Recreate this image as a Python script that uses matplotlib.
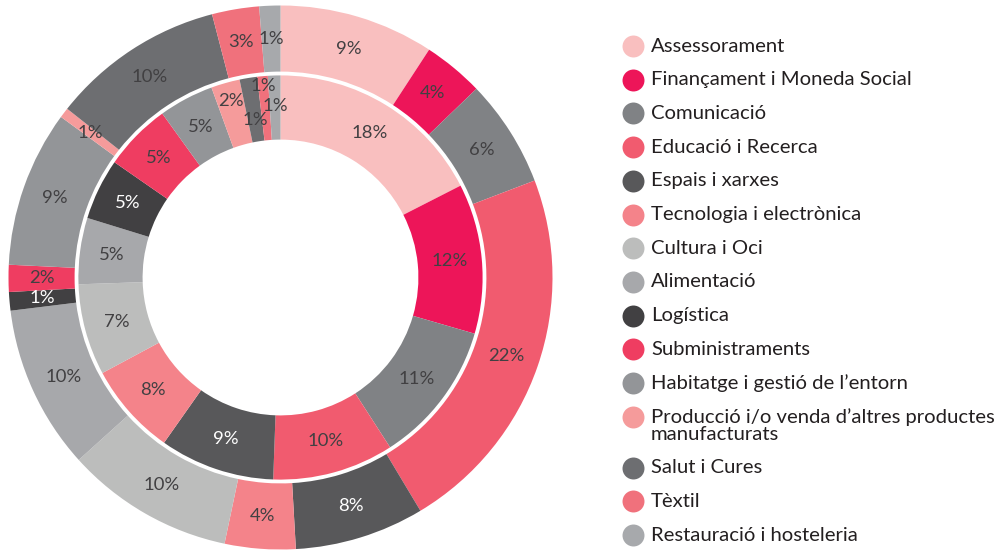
import matplotlib.pyplot as plt
import numpy as np

plt.rcParams['font.family'] = ['Lato', 'DejaVu Sans']

# categories (legend order = clockwise order in both rings)
categories = [
    'Assessorament',
    'Finançament i Moneda Social',
    'Comunicació',
    'Educació i Recerca',
    'Espais i xarxes',
    'Tecnologia i electrònica',
    'Cultura i Oci',
    'Alimentació',
    'Logística',
    'Subministraments',
    'Habitatge i gestió de l\u2019entorn',
    'Producció i/o venda d\u2019altres productes\nmanufacturats',
    'Salut i Cures',
    'Tèxtil',
    'Restauració i hosteleria',
]
colors = ['#f9bfbf', '#ed1559', '#808285', '#f15b6f', '#58585a', '#f4838a',
          '#bcbdbc', '#a7a8ab', '#414042', '#ef3d61', '#939598', '#f59b9b',
          '#6d6e71', '#f0717c', '#a7a9ac']

outer_values = [9.2, 3.6, 6.4, 22.2, 7.7, 4.2, 10.0, 9.75, 1.1, 1.6, 9.3, 0.6, 10.3, 2.8, 1.25]
outer_labels = [9, 4, 6, 22, 8, 4, 10, 10, 1, 2, 9, 1, 10, 3, 1]
inner_values = [17.5, 12.0, 11.4, 9.7, 9.2, 7.4, 7.3, 5.3, 4.9, 5.4, 4.4, 2.3, 1.4, 0.85, 1.0]
inner_labels = [18, 12, 11, 10, 9, 8, 7, 5, 5, 5, 5, 2, 1, 1, 1]

dark = {4, 8}  # slices with white labels
# radial nudges for crowded inner labels (index: radius)
inner_label_r = {11: 0.673, 12: 0.588, 13: 0.706, 14: 0.632}

W, H = 994, 551
fig = plt.figure(figsize=(W / 100, H / 100), dpi=100)
cx, cy, R = 280.5, 277.5, 272
ax = fig.add_axes([(cx - R) / W, (H - cy - R) / H, 2 * R / W, 2 * R / H])

w_out, _ = ax.pie(outer_values, colors=colors, radius=1.0, startangle=90,
                  counterclock=False, wedgeprops=dict(width=0.243, linewidth=0))
w_in, _ = ax.pie(inner_values, colors=colors, radius=0.743, startangle=90,
                 counterclock=False, wedgeprops=dict(width=0.236, linewidth=0))
ax.set_xlim(-1, 1)
ax.set_ylim(-1, 1)
ax.set_aspect('equal')
ax.axis('off')


def put_labels(wedges, labels, r_default, r_over):
    for i, (w, lab) in enumerate(zip(wedges, labels)):
        mid = np.deg2rad((w.theta1 + w.theta2) / 2)
        r = r_over.get(i, r_default)
        ax.text(r * np.cos(mid), r * np.sin(mid), f'{lab}%',
                ha='center', va='center', fontsize=13.3,
                color='white' if i in dark else '#414042')


put_labels(w_out, outer_labels, 0.878, {})
put_labels(w_in, inner_labels, 0.625, inner_label_r)

# legend, drawn in pixel coordinates
lax = fig.add_axes([0, 0, 1, 1], facecolor='none')
lax.set_xlim(0, W)
lax.set_ylim(H, 0)
lax.axis('off')
y = 46.0
for name, col in zip(categories, colors):
    lax.scatter([633], [y], s=250, color=col, linewidths=0)
    lines = name.split('\n')
    for k, line in enumerate(lines):
        lax.text(651, y + 18 * k, line, ha='left', va='center',
                 fontsize=14.6, color='#231f20')
    y += 33.7 + 17.3 * (len(lines) - 1)

fig.savefig('out.png', dpi=100)
